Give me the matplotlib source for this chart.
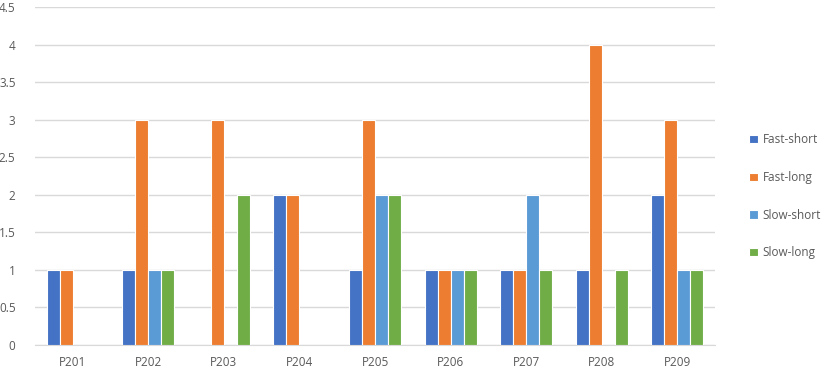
import matplotlib.pyplot as plt
import numpy as np

plt.rcParams['font.family'] = ['Open Sans', 'DejaVu Sans']

participants = ['P201', 'P202', 'P203', 'P204', 'P205', 'P206', 'P207', 'P208', 'P209']
fast_short = [1, 1, 0, 2, 1, 1, 1, 1, 2]
fast_long = [1, 3, 3, 2, 3, 1, 1, 4, 3]
slow_short = [0, 1, 0, 0, 2, 1, 2, 0, 1]
slow_long = [0, 1, 2, 0, 2, 1, 1, 1, 1]

series = [('Fast-short', fast_short, '#4472C4'),
          ('Fast-long', fast_long, '#ED7D31'),
          ('Slow-short', slow_short, '#5B9BD5'),
          ('Slow-long', slow_long, '#70AD47')]

fig = plt.figure(figsize=(8.27, 3.69), dpi=100)
ax = fig.add_axes([0.0423, 0.065, 0.8223, 0.916])

x = np.arange(len(participants))
w = 0.172
for i, (name, vals, col) in enumerate(series):
    ax.bar(x + (i - 1.5) * w, vals, w, color=col, edgecolor='white', linewidth=0.8,
           label=name, zorder=3)

ax.set_xlim(-0.5, len(participants) - 0.5)
ax.set_ylim(0, 4.5)
ax.set_yticks(np.arange(0, 4.51, 0.5))
ax.set_yticklabels(['0', '0.5', '1', '1.5', '2', '2.5', '3', '3.5', '4', '4.5'])
ax.set_xticks(x)
ax.set_xticklabels(participants)
ax.yaxis.grid(True, color='#D9D9D9', linewidth=1, zorder=0)
for s in ['top', 'right', 'left']:
    ax.spines[s].set_visible(False)
ax.spines['bottom'].set_color('#D9D9D9')
ax.tick_params(axis='both', length=0, labelsize=8.5, colors='#595959')
ax.tick_params(axis='y', pad=14)
ax.tick_params(axis='x', pad=8)

# legend sits a bit below the middle, like Excel puts it
leg = ax.legend(loc='center left', bbox_to_anchor=(1.035, 0.44), frameon=False,
                fontsize=8.5, handlelength=0.7, handleheight=0.7, handletextpad=0.4,
                labelspacing=2.1)
for t in leg.get_texts():
    t.set_color('#595959')

fig.savefig('out.png', dpi=100)
